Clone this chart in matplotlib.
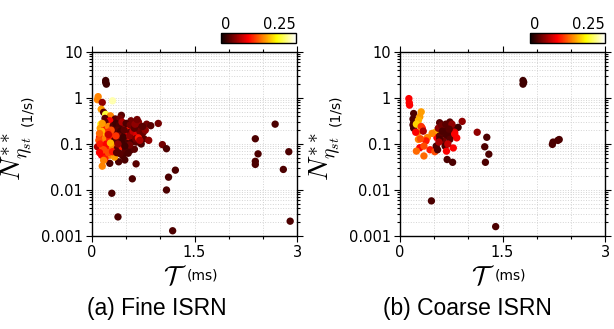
import numpy as np
import matplotlib

matplotlib.use("Agg")
import matplotlib.pyplot as plt
from matplotlib.ticker import MultipleLocator, LogLocator, NullFormatter

# Fine ISRN: lifetime T (ms), N** (1/s), colour value
fine_t = [0.20, 0.20, 0.21, 2.68, 2.39, 2.43, 2.39, 2.39, 2.88, 2.80, 2.90,
          0.97, 1.03, 1.09, 1.22, 1.12, 1.09, 1.18, 0.29, 0.38, 0.59, 0.645, 0.48, 0.39, 0.26, 0.34,
          0.09, 0.08, 0.15, 0.30, 0.135, 0.17, 0.20, 0.27, 0.43, 0.19, 0.34, 0.41, 0.26, 0.13, 0.19,
          0.57, 0.68, 0.80, 0.86, 0.12, 0.18, 0.24, 0.31, 0.38, 0.45, 0.52, 0.60, 0.65, 0.72,
          0.16, 0.22, 0.30, 0.37, 0.44, 0.49, 0.56, 0.61, 0.72, 0.76, 0.83, 0.11, 0.19, 0.26, 0.33,
          0.40, 0.52, 0.58, 0.65, 0.72, 0.08, 0.155, 0.23, 0.30, 0.37, 0.44, 0.49, 0.56, 0.62, 0.53,
          0.19, 0.14, 0.26, 0.33, 0.45, 0.19, 0.17, 0.41, 0.15,
          0.35, 0.40, 0.36, 0.42, 0.47, 0.39, 0.46, 0.50, 0.43, 0.55, 0.60, 0.66, 0.70, 0.75, 0.64,
          0.68, 0.55, 0.48, 0.38, 0.35, 0.28, 0.23, 0.14, 0.11, 0.10, 0.12, 0.21, 0.27, 0.17, 0.11,
          0.24, 0.30, 0.36, 0.15, 0.24, 0.44, 0.50, 0.56, 0.62, 0.70, 0.78, 0.74, 0.63, 0.66]
fine_n = [2.4, 2.2, 2.0, 0.27, 0.13, 0.061, 0.042, 0.036, 0.068, 0.028, 0.0021,
          0.28, 0.097, 0.079, 0.027, 0.019, 0.010, 0.0013, 0.0085, 0.0026, 0.0175, 0.037, 0.045, 0.041, 0.038, 0.058,
          1.07, 0.92, 0.80, 0.87, 0.57, 0.49, 0.44, 0.41, 0.42, 0.36, 0.35, 0.36, 0.32, 0.27, 0.30,
          0.32, 0.30, 0.27, 0.25, 0.22, 0.21, 0.24, 0.25, 0.22, 0.23, 0.23, 0.25, 0.21, 0.23,
          0.17, 0.165, 0.16, 0.17, 0.18, 0.16, 0.18, 0.15, 0.16, 0.13, 0.12, 0.14, 0.13, 0.13, 0.12,
          0.14, 0.12, 0.11, 0.11, 0.10, 0.087, 0.087, 0.08, 0.087, 0.08, 0.087, 0.073, 0.073, 0.077, 0.063,
          0.066, 0.057, 0.057, 0.052, 0.055, 0.048, 0.044, 0.062, 0.033,
          0.28, 0.26, 0.20, 0.19, 0.20, 0.15, 0.14, 0.105, 0.11, 0.15, 0.19, 0.16, 0.19, 0.18, 0.13,
          0.135, 0.095, 0.09, 0.10, 0.15, 0.20, 0.18, 0.19, 0.17, 0.12, 0.10, 0.10, 0.105, 0.075, 0.065,
          0.065, 0.068, 0.065, 0.28, 0.16, 0.30, 0.28, 0.26, 0.22, 0.12, 0.20, 0.24, 0.27, 0.34]
fine_c = [0.02, 0.02, 0.02, 0.025, 0.025, 0.025, 0.025, 0.025, 0.025, 0.025, 0.025,
          0.04, 0.04, 0.025, 0.025, 0.025, 0.025, 0.025, 0.025, 0.025, 0.025, 0.03, 0.025, 0.025, 0.025, 0.025,
          0.14, 0.14, 0.05, 0.23, 0.15, 0.03, 0.20, 0.14, 0.03, 0.03, 0.03, 0.04, 0.09, 0.19, 0.03,
          0.04, 0.05, 0.04, 0.03, 0.15, 0.10, 0.14, 0.03, 0.025, 0.06, 0.10, 0.025, 0.09, 0.03,
          0.19, 0.15, 0.10, 0.025, 0.025, 0.09, 0.03, 0.09, 0.03, 0.03, 0.05, 0.10, 0.14, 0.10, 0.03,
          0.03, 0.10, 0.025, 0.03, 0.025, 0.06, 0.14, 0.10, 0.14, 0.03, 0.10, 0.03, 0.025, 0.03, 0.025,
          0.10, 0.09, 0.14, 0.15, 0.025, 0.10, 0.14, 0.03, 0.14,
          0.02, 0.025, 0.03, 0.02, 0.03, 0.04, 0.02, 0.025, 0.02, 0.05, 0.07, 0.08, 0.04, 0.035, 0.04,
          0.10, 0.04, 0.02, 0.05, 0.11, 0.12, 0.11, 0.16, 0.13, 0.12, 0.10, 0.09, 0.16, 0.12, 0.09,
          0.12, 0.10, 0.03, 0.15, 0.07, 0.06, 0.025, 0.04, 0.03, 0.06, 0.05, 0.03, 0.05, 0.04]

# Coarse ISRN
coarse_t = [1.80, 1.81, 1.80, 2.23, 2.24, 2.31, 2.33, 1.13, 1.27, 1.24, 1.30, 1.25, 0.46, 1.40, 0.91, 0.69, 0.77,
            0.13, 0.135, 0.14, 0.20, 0.31, 0.29, 0.19, 0.20, 0.19, 0.20, 0.27, 0.24, 0.325, 0.31, 0.26,
            0.23, 0.34, 0.27, 0.40, 0.38, 0.52, 0.54, 0.29, 0.35, 0.24, 0.44, 0.35, 0.51, 0.30, 0.47,
            0.58, 0.73, 0.66, 0.78, 0.85, 0.63, 0.70, 0.80, 0.58, 0.68, 0.75, 0.63, 0.73, 0.83, 0.58,
            0.53, 0.66, 0.68, 0.78, 0.80, 0.56, 0.61, 0.67, 0.76, 0.55, 0.70, 0.62, 0.72, 0.57]
coarse_n = [2.4, 2.2, 2.0, 0.098, 0.11, 0.12, 0.125, 0.18, 0.14, 0.087, 0.06, 0.040, 0.0058, 0.0016, 0.31, 0.046, 0.040,
            0.97, 0.79, 0.70, 0.46, 0.50, 0.39, 0.35, 0.29, 0.26, 0.22, 0.33, 0.27, 0.22, 0.24, 0.18,
            0.18, 0.19, 0.126, 0.138, 0.117, 0.18, 0.138, 0.083, 0.09, 0.07, 0.075, 0.055, 0.068, 0.13, 0.17,
            0.29, 0.30, 0.23, 0.23, 0.23, 0.19, 0.19, 0.18, 0.15, 0.15, 0.15, 0.116, 0.126, 0.136, 0.126,
            0.09, 0.09, 0.07, 0.082, 0.165, 0.22, 0.25, 0.27, 0.27, 0.075, 0.10, 0.19, 0.21, 0.11]
coarse_c = [0.02, 0.02, 0.02, 0.025, 0.025, 0.025, 0.025, 0.05, 0.025, 0.025, 0.025, 0.025, 0.025, 0.025, 0.05, 0.025, 0.025,
            0.09, 0.09, 0.09, 0.025, 0.15, 0.15, 0.025, 0.025, 0.025, 0.025, 0.16, 0.17, 0.09, 0.11, 0.14,
            0.09, 0.06, 0.14, 0.14, 0.10, 0.16, 0.09, 0.09, 0.12, 0.13, 0.10, 0.13, 0.12, 0.12, 0.14,
            0.03, 0.03, 0.03, 0.04, 0.02, 0.03, 0.025, 0.08, 0.03, 0.025, 0.025, 0.04, 0.03, 0.09, 0.025,
            0.025, 0.025, 0.09, 0.09, 0.09, 0.05, 0.04, 0.03, 0.05, 0.025, 0.07, 0.025, 0.03, 0.06]

panels = [
    (fine_t, fine_n, fine_c, "(a) Fine ISRN"),
    (coarse_t, coarse_n, coarse_c, "(b) Coarse ISRN"),
]
cmin, cmax = 0.0, 0.25
TICK_FS = 10.5


def style_axes(ax):
    ax.set_yscale("log")
    ax.set_xlim(0, 3)
    ax.set_ylim(0.001, 10)
    ax.set_xticks([0, 1.5, 3])
    ax.set_xticklabels(["0", "1.5", "3"])
    ax.xaxis.set_minor_locator(MultipleLocator(0.5))
    ax.set_yticks([0.001, 0.01, 0.1, 1, 10])
    ax.set_yticklabels(["0.001", "0.01", "0.1", "1", "10"])
    ax.yaxis.set_minor_locator(LogLocator(base=10, subs=np.arange(2, 10), numticks=20))
    ax.yaxis.set_minor_formatter(NullFormatter())
    ax.tick_params(which="both", top=True, right=True, direction="out",
                   labelsize=TICK_FS, colors="black", width=0.8, pad=2.5)
    ax.tick_params(which="major", length=4)
    ax.tick_params(which="minor", length=2)
    ax.grid(True, which="both", color="#d4d4d4", ls=":", lw=0.7)
    ax.set_axisbelow(True)
    for s in ax.spines.values():
        s.set_linewidth(1.0)


plt.rcParams["mathtext.fontset"] = "cm"
fig = plt.figure(figsize=(6.14, 3.29), dpi=100)

lefts = [92 / 614, 400 / 614]
cb_lefts = [221 / 614, 530 / 614]
cap_x = [157 / 614, 467 / 614]

for i, (t, n, c, caption) in enumerate(panels):
    ax = fig.add_axes([lefts[i], 93 / 329, 205 / 614, 184 / 329])
    style_axes(ax)
    sc = ax.scatter(t, n, c=c, cmap="hot", vmin=cmin, vmax=cmax, s=28,
                    edgecolors="none", zorder=3)

    # axis labels
    ax.text(0.405, -0.26, r"$\mathcal{T}$", transform=ax.transAxes,
            fontsize=19, ha="center", va="baseline")
    ax.text(0.463, -0.234, "(ms)", transform=ax.transAxes,
            fontsize=10, ha="left", va="baseline")
    ax.text(-0.36, 0.43, r"$N^{**}_{\eta_{st}}$", transform=ax.transAxes,
            fontsize=20, rotation=90, ha="center", va="center")
    ax.text(-0.315, 0.685, "(1/s)", transform=ax.transAxes,
            fontsize=10, rotation=90, ha="center", va="center")

    # colorbar
    cax = fig.add_axes([cb_lefts[i], (329 - 43) / 329, 75 / 614, 10 / 329])
    cb = fig.colorbar(sc, cax=cax, orientation="horizontal")
    cb.set_ticks([])
    cb.outline.set_linewidth(1.0)
    cax.text(0.0, 1.1, "0", transform=cax.transAxes, ha="left", va="bottom", fontsize=TICK_FS)
    cax.text(1.0, 1.1, "0.25", transform=cax.transAxes, ha="right", va="bottom", fontsize=TICK_FS)

    fig.text(cap_x[i], 20 / 329, caption, ha="center", va="center",
             fontsize=16.5, family="Liberation Sans")

fig.savefig("out.png", dpi=100)
